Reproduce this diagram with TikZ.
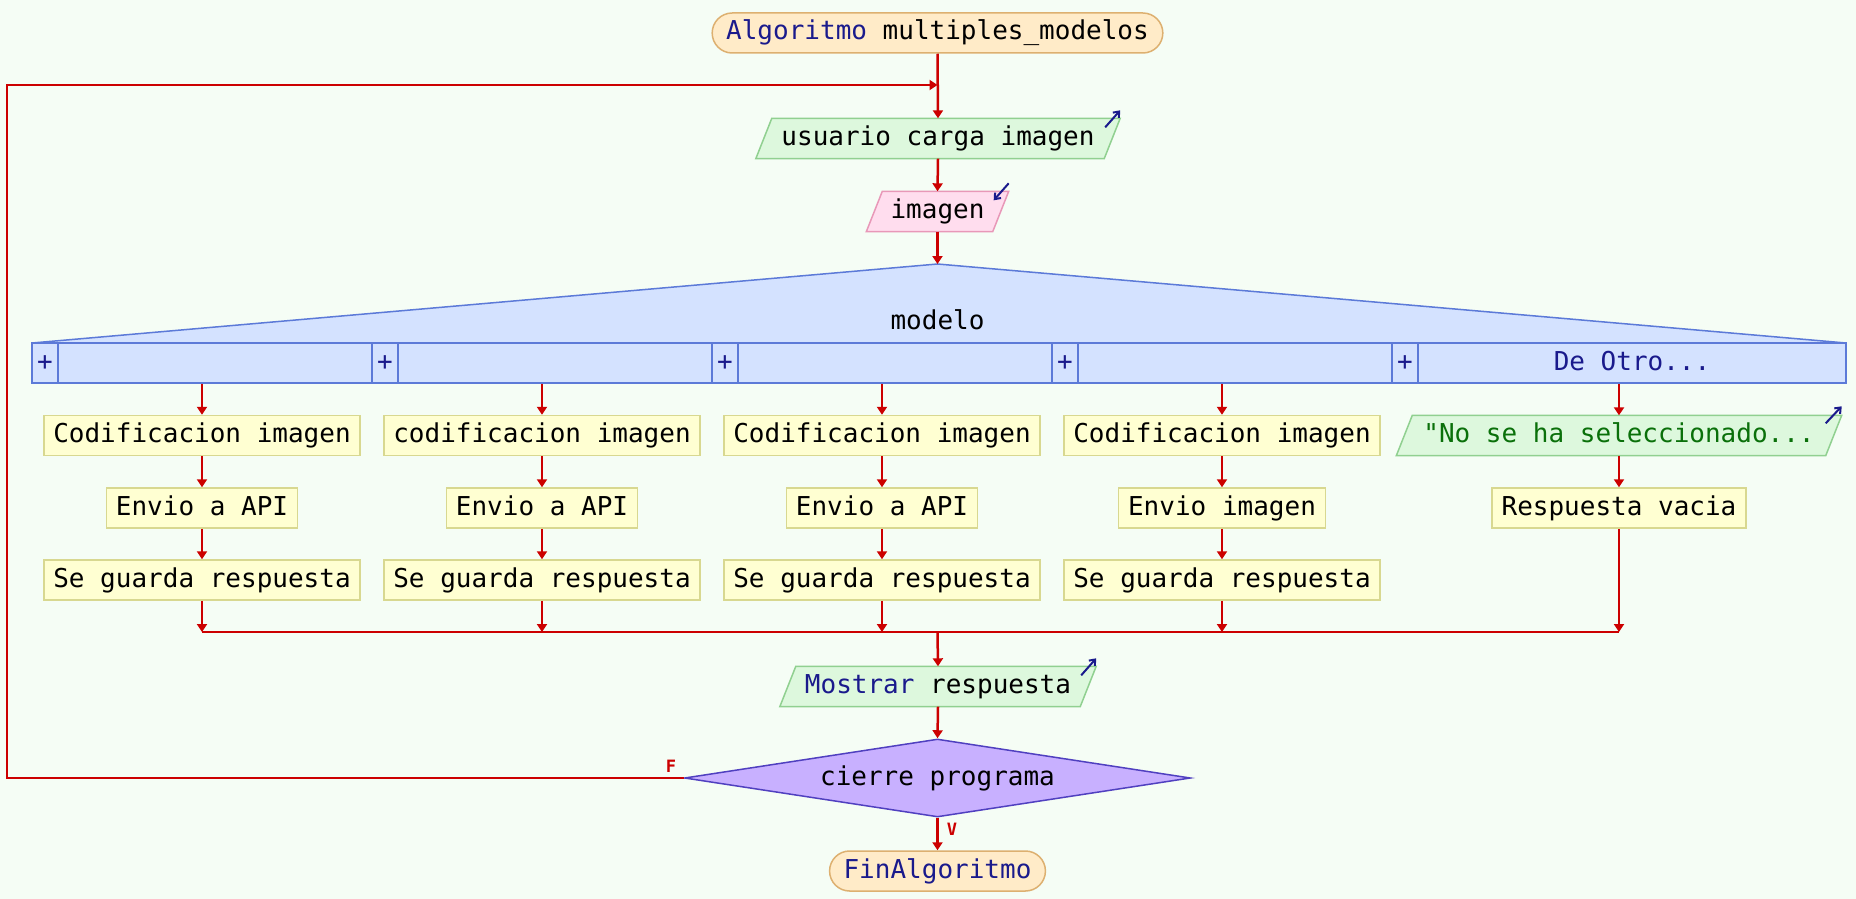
\documentclass[tikz,border=0pt]{standalone}
\usepackage{fontspec}
\setmainfont{DejaVu Sans Mono}[Ligatures=TeXOff]
\usetikzlibrary{arrows.meta,calc,shapes.geometric}
\definecolor{bgc}{HTML}{F5FDF5}
\definecolor{termfill}{HTML}{FFEBC8}
\definecolor{termdraw}{HTML}{DDB070}
\definecolor{procfill}{HTML}{FFFFD2}
\definecolor{procdraw}{HTML}{D8D890}
\definecolor{infill}{HTML}{DDF8DD}
\definecolor{indraw}{HTML}{90D090}
\definecolor{pinkfill}{HTML}{FFDDEE}
\definecolor{pinkdraw}{HTML}{E898B8}
\definecolor{selfill}{HTML}{D4E2FF}
\definecolor{seldraw}{HTML}{5C7AD8}
\definecolor{decfill}{HTML}{C8B0FF}
\definecolor{decdraw}{HTML}{5040C0}
\definecolor{arrowred}{HTML}{CC0000}
\definecolor{navy}{HTML}{1A1A8C}
\definecolor{strgreen}{HTML}{0A700A}
\pgfdeclarelayer{bglayer}
\pgfdeclarelayer{shapelayer}
\pgfsetlayers{bglayer,shapelayer,main}
\newcommand\drawpara[2]{\begin{pgfonlayer}{shapelayer}\filldraw[#2] (#1.south west) -- ($(#1.south east)+(-16,0)$) -- (#1.north east) -- ($(#1.north west)+(16,0)$) -- cycle;\end{pgfonlayer}}
\begin{document}
\begin{tikzpicture}[x=1pt,y=-1pt,
  every node/.style={font=\fontsize{26pt}{30pt}\selectfont, text height=19pt, text depth=5pt, inner ysep=0pt, minimum height=40pt},
  term/.style={draw=termdraw, fill=termfill, rounded corners=20pt, line width=1.5pt, inner xsep=14pt},
  proc/.style={draw=procdraw, fill=procfill, line width=1.5pt, inner xsep=9.5pt},
  para/.style={inner sep=0pt},
  cell/.style={draw=seldraw, fill=selfill, line width=1.5pt, inner sep=0pt},
  arr/.style={draw=arrowred, line width=2.5pt, -{Triangle[length=8pt,width=10pt]}},
  flow/.style={draw=arrowred, line width=2.5pt},
  icon/.style={draw=navy, line width=2pt, -{Straight Barb[length=5pt,width=8pt]}},
  lab/.style={text=arrowred, font=\fontsize{17pt}{20pt}\selectfont\bfseries, minimum height=0pt, text height=12pt, text depth=0pt, inner sep=0pt}
]
\begin{pgfonlayer}{bglayer}
\fill[bgc] (0,0) rectangle (1856,899);
\end{pgfonlayer}
\useasboundingbox (0,0) rectangle (1856,899);

% main axis nodes
\node[term] (start) at (937.5,33) {\textcolor{navy}{Algoritmo} multiples\_modelos};
\node[para, minimum width=364pt] (usu) at (938,138.5) {usuario carga imagen};
\node[para, minimum width=142pt] (img) at (937.5,211.5) {imagen};
\coordinate (apex) at (937.5,264);

% selection
\fill[selfill,draw=seldraw,line width=1.5pt] (32,343) -- (apex) -- (1846,343) -- cycle;
\node (modelo) at (937.5,322) {modelo};
\node[cell, minimum width=340pt] (c1) at (202,363) {};
\node[cell, minimum width=340pt] (c2) at (542,363) {};
\node[cell, minimum width=340pt] (c3) at (882,363) {};
\node[cell, minimum width=340pt] (c4) at (1222,363) {};
\node[cell, minimum width=454pt] (c5) at (1619,363) {};
\node[cell, minimum width=26pt, text=navy] (p1) at (45,363) {+};
\node[cell, minimum width=26pt, text=navy] (p2) at (385,363) {+};
\node[cell, minimum width=26pt, text=navy] (p3) at (725,363) {+};
\node[cell, minimum width=26pt, text=navy] (p4) at (1065,363) {+};
\node[cell, minimum width=26pt, text=navy] (p5) at (1405,363) {+};
\node[text=navy] (deotro) at (1632,363) {De Otro...};

% columns
\node[proc] (a1) at (202,435.5) {Codificacion imagen};
\node[proc] (b1) at (202,508) {Envio a API};
\node[proc] (d1) at (202,580) {Se guarda respuesta};
\node[proc] (a2) at (542,435.5) {codificacion imagen};
\node[proc] (b2) at (542,508) {Envio a API};
\node[proc] (d2) at (542,580) {Se guarda respuesta};
\node[proc] (a3) at (882,435.5) {Codificacion imagen};
\node[proc] (b3) at (882,508) {Envio a API};
\node[proc] (d3) at (882,580) {Se guarda respuesta};
\node[proc] (a4) at (1222,435.5) {Codificacion imagen};
\node[proc] (b4) at (1222,508) {Envio imagen};
\node[proc] (d4) at (1222,580) {Se guarda respuesta};
\node[para, minimum width=445pt, text=strgreen] (a5) at (1619,435.5) {"No se ha seleccionado...};
\node[proc] (b5) at (1619,508) {Respuesta vacia};

\coordinate (m1) at (202,632);
\coordinate (m2) at (542,632);
\coordinate (m3) at (882,632);
\coordinate (m4) at (1222,632);
\coordinate (m5) at (1619,632);
\coordinate (mc) at (937.5,632);

% bottom
\node[para, minimum width=316pt] (show) at (938,686.5) {\textcolor{navy}{Mostrar} respuesta};
\node[diamond, draw=decdraw, fill=decfill, line width=1.5pt, minimum width=506pt, minimum height=78pt, shape aspect=6.5, inner sep=0pt] (dec) at (937.5,778) {cierre programa};
\node[term] (fin) at (937.5,871) {\textcolor{navy}{FinAlgoritmo}};
\node[lab] (flab) at (671,766) {F};
\node[lab] (vlab) at (952,829) {V};

\coordinate (lb) at (7,778);
\coordinate (lt) at (7,85);
\coordinate (jn) at (937.5,85);

% parallelogram shapes
\drawpara{usu}{fill=infill,draw=indraw,line width=1.5pt}
\drawpara{img}{fill=pinkfill,draw=pinkdraw,line width=1.5pt}
\drawpara{a5}{fill=infill,draw=indraw,line width=1.5pt}
\drawpara{show}{fill=infill,draw=indraw,line width=1.5pt}

% icons
\draw[icon] ($(usu.north east)+(-15,9)$) -- ($(usu.north east)+(0,-8)$);
\draw[icon] ($(img.north east)+(0,-8)$) -- ($(img.north east)+(-15,9)$);
\draw[icon] ($(a5.north east)+(-16,8)$) -- ($(a5.north east)+(0,-9)$);
\draw[icon] ($(show.north east)+(-15,9)$) -- ($(show.north east)+(0,-8)$);

% connectors
\draw[arr] (start.south) -- (usu.north);
\draw[arr] (usu.south) -- (img.north);
\draw[arr] (img.south) -- (apex);
\foreach \k in {1,2,3,4}{
  \draw[arr] (c\k.south) -- (a\k.north);
  \draw[arr] (a\k.south) -- (b\k.north);
  \draw[arr] (b\k.south) -- (d\k.north);
  \draw[arr] (d\k.south) -- (m\k);
}
\draw[arr] (c5.south) -- (a5.north);
\draw[arr] (a5.south) -- (b5.north);
\draw[arr] (b5.south) -- (m5);
\draw[flow] (m1) -- (m5);
\draw[arr] (mc) -- (show.north);
\draw[arr] (show.south) -- (dec.north);
\draw[arr] (dec.south) -- (fin.north);
\draw[arr] (dec.west) -- (lb) -- (lt) -- (jn);
\end{tikzpicture}
\end{document}
